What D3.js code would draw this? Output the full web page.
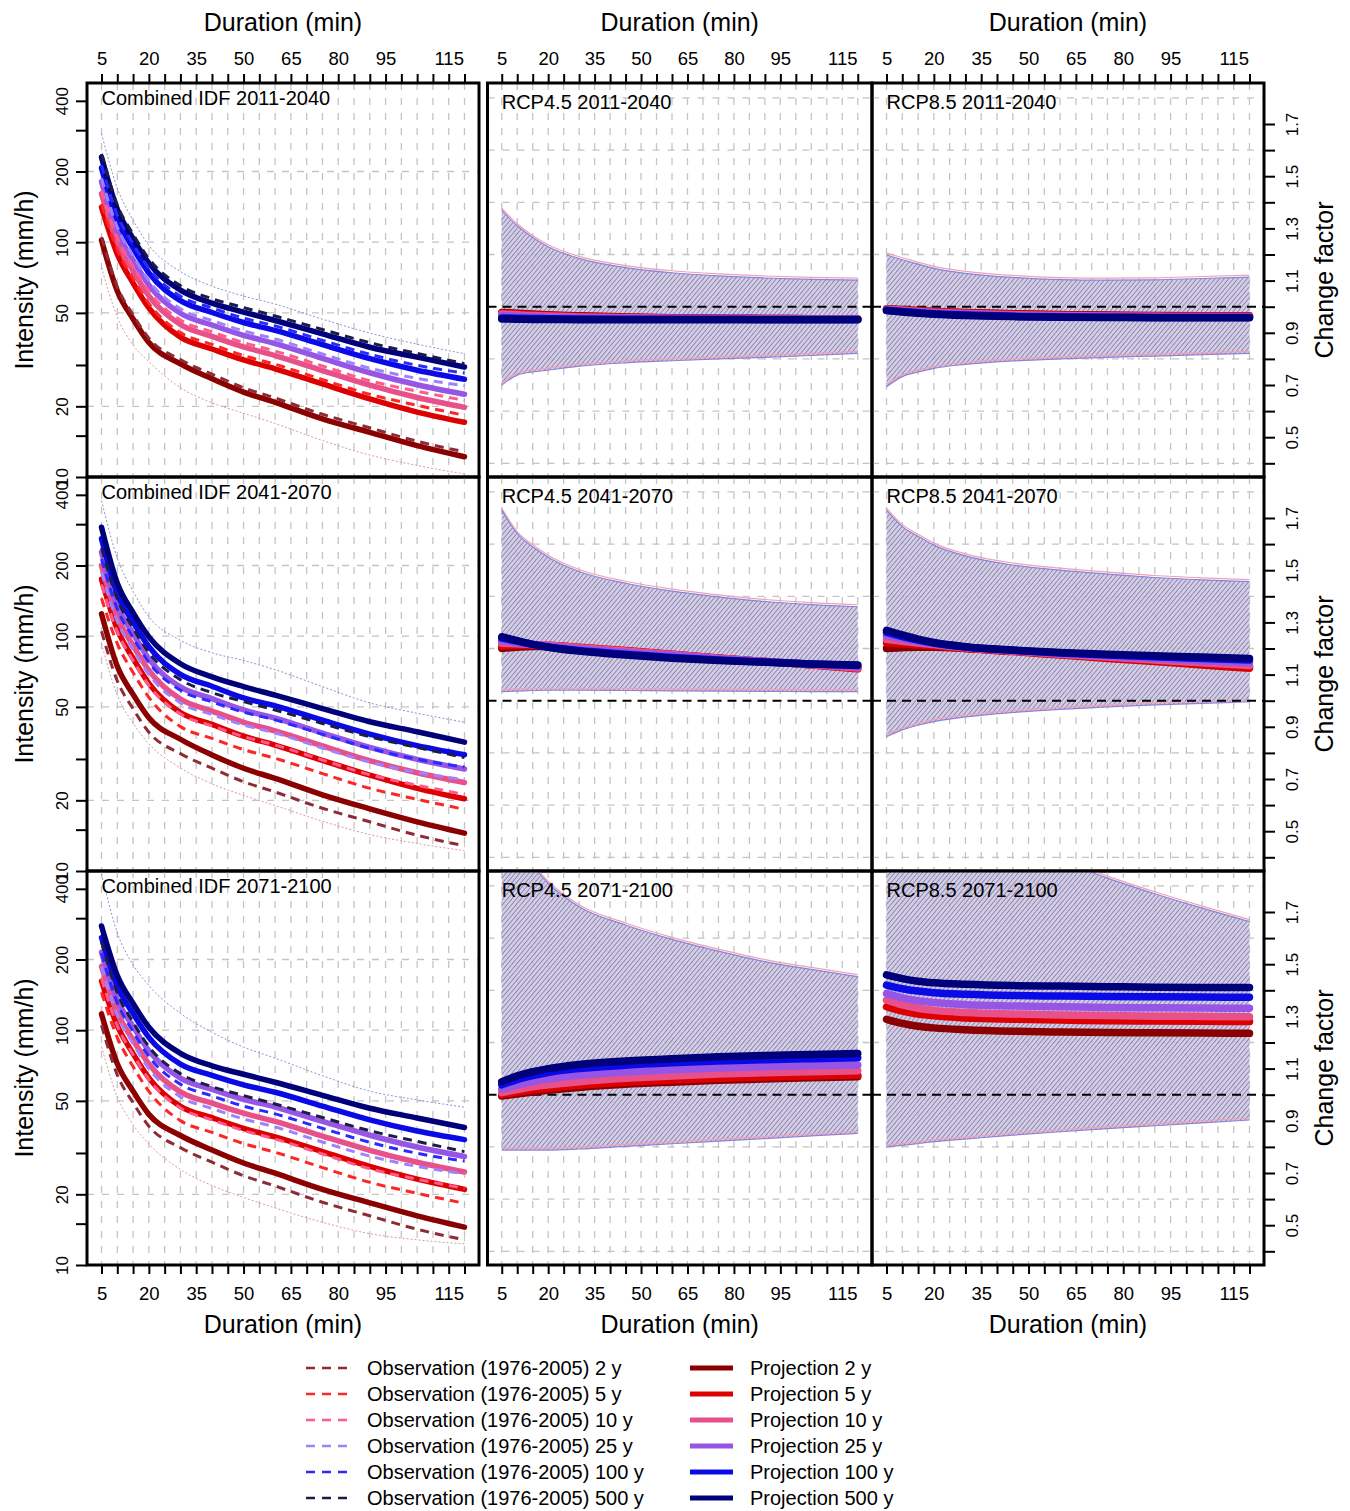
<!DOCTYPE html>
<html>
<head>
<meta charset="utf-8">
<script src="https://cdn.jsdelivr.net/npm/d3@7"></script>
<style>
  body { margin: 0; background: #fff; }
  svg text { font-family: "Liberation Sans", Arial, Helvetica, sans-serif; }
</style>
</head>
<body>
<svg id="chart" width="1350" height="1511"></svg>
<script>
// ---- data ----
const returnPeriods = ["2 y", "5 y", "10 y", "25 y", "100 y", "500 y"];
const periods = ["2011-2040", "2041-2070", "2071-2100"];

const durationTicks = [5, 10, 15, 20, 25, 30, 35, 40, 45, 50, 55, 60, 65, 70, 75, 80, 85, 90, 95, 100, 105, 110, 115, 120];
const durationLabels = [5, 20, 35, 50, 65, 80, 95, 115];
const intensityTickMarks = [10, 15, 20, 30, 50, 100, 200, 300, 400];
const intensityLabels = [10, 20, 50, 100, 200, 400];
const intensityGrid = [20, 50, 100, 200];
const cfTickMarks = [0.4, 0.5, 0.6, 0.7, 0.8, 0.9, 1.0, 1.1, 1.2, 1.3, 1.4, 1.5, 1.6, 1.7];
const cfLabels = [0.5, 0.7, 0.9, 1.1, 1.3, 1.5, 1.7];
const cfGrid = [0.4, 0.6, 0.8, 1.2, 1.4, 1.6, 1.8];

// IDF curves (mm/h)
const idfDurations = [5, 10, 15, 20, 30, 40, 50, 60, 75, 90, 105, 120];
const obsIdf = [
  [105, 64.5, 49.1, 39.0, 31.6, 27.4, 24.0, 21.7, 18.5, 16.2, 14.2, 12.8],
  [145, 93, 70.0, 54.9, 41.2, 36.7, 32.9, 30.2, 26.0, 22.5, 20.2, 18.3],
  [166, 104.5, 78.8, 61.8, 46.6, 41.5, 37.4, 34.4, 29.7, 25.7, 23.2, 21.2],
  [187, 116, 87.6, 68.7, 52.0, 46.4, 41.9, 38.7, 33.4, 29.1, 26.3, 24.5],
  [213, 130.6, 98.6, 77.3, 58.9, 52.5, 47.5, 44.0, 38.2, 33.3, 29.9, 27.7],
  [238, 144, 108.2, 85.1, 65.3, 57.5, 52.7, 48.5, 42.5, 37.3, 33.6, 30.4]
];
const projIdf2011 = [
  [102, 62, 47.1, 37.4, 30.3, 26.2, 23.0, 20.8, 17.7, 15.5, 13.6, 12.2],
  [141, 89, 67.0, 52.5, 39.4, 35.1, 31.5, 28.9, 24.9, 21.5, 18.9, 17.1],
  [161, 100, 75.4, 59.1, 44.6, 39.7, 35.8, 32.9, 28.4, 24.6, 21.8, 19.8],
  [181, 111, 83.8, 65.7, 49.8, 44.4, 40.1, 37.0, 32.0, 27.8, 24.7, 22.5],
  [207, 125, 94.3, 74.0, 56.4, 50.2, 45.5, 42.1, 36.6, 31.9, 28.5, 26.1],
  [230, 138, 103.5, 81.4, 62.5, 55, 50.4, 46.4, 40.7, 35.7, 32.4, 29.4]
];
const projIdf2041 = [
  [124.5, 74.4, 56.5, 44.9, 36.4, 31.2, 27.4, 24.8, 21.1, 18.4, 16.2, 14.5],
  [175, 107, 80.4, 63.0, 47.3, 42.1, 37.5, 34.4, 29.6, 25.6, 22.5, 20.3],
  [200, 121, 91.2, 71.6, 54.0, 48.0, 43.0, 39.5, 34.1, 29.5, 26.2, 23.8],
  [228, 135, 102.5, 80.1, 60.8, 54.2, 48.5, 44.8, 38.7, 33.6, 29.9, 27.2],
  [260, 152, 114.7, 90.2, 68.8, 61.2, 54.6, 50.5, 43.9, 38.3, 34.2, 31.3],
  [291, 168, 125.9, 99.3, 76.3, 67.1, 61.0, 56.1, 49.2, 43.2, 39.2, 35.4]
];
const projIdf2071 = [
  [117.3, 72.0, 55.0, 43.8, 35.6, 30.9, 27.2, 24.6, 21.0, 18.4, 16.2, 14.5],
  [162, 104.5, 79.5, 62.7, 47.4, 42.4, 38.2, 35.1, 30.4, 26.3, 23.2, 21.0],
  [187, 119, 90.8, 71.8, 54.6, 48.9, 44.3, 40.9, 35.4, 30.8, 27.4, 24.9],
  [215, 135, 103.5, 81.8, 62.5, 56.0, 50.8, 47.1, 40.9, 35.7, 31.8, 29.0],
  [248, 154, 117.7, 93.2, 71.7, 64.2, 58.5, 54.4, 47.5, 41.5, 37.2, 34.2],
  [278, 171, 129.9, 102.9, 79.7, 70.5, 64.9, 60.0, 52.8, 46.5, 42.3, 38.5]
];
// faint ensemble bounds in the IDF panels, one row per period
const idfUpper = [
  [290, 170, 124, 97, 75, 65, 59, 54.5, 47, 41, 36.8, 33.5],
  [378, 215, 155, 121, 96, 85, 78.8, 72, 61, 52, 47, 43],
  [463, 260, 190, 155, 118, 98, 84.7, 76, 64, 55, 50.5, 47]
];
const idfLower = [
  [78, 48, 36.5, 31, 24, 20.7, 18.7, 16.9, 14.3, 12.4, 11.2, 10.3],
  [93, 56, 42.6, 34.8, 27.5, 23.5, 21, 19, 16.3, 14.3, 13.1, 12.2],
  [85, 52, 39.6, 32.8, 25.5, 21.8, 19.4, 17.5, 15.2, 13.6, 12.8, 12.3]
];

// change factors
const cfDurations = [5, 10, 15, 20, 30, 45, 60, 75, 90, 105, 120];
const cfRcp45_2011 = [
  [0.978, 0.975, 0.972, 0.969, 0.965, 0.961, 0.958, 0.956, 0.955, 0.954, 0.953],
  [0.976, 0.973, 0.970, 0.967, 0.963, 0.960, 0.957, 0.956, 0.955, 0.954, 0.953],
  [0.972, 0.969, 0.966, 0.964, 0.961, 0.958, 0.956, 0.955, 0.954, 0.953, 0.952],
  [0.965, 0.963, 0.961, 0.959, 0.957, 0.955, 0.954, 0.953, 0.953, 0.952, 0.952],
  [0.957, 0.956, 0.955, 0.954, 0.953, 0.952, 0.952, 0.952, 0.951, 0.951, 0.951],
  [0.953, 0.952, 0.951, 0.951, 0.950, 0.950, 0.950, 0.950, 0.950, 0.950, 0.950]
];
const cfRcp85_2011 = [
  [0.990, 0.988, 0.985, 0.982, 0.978, 0.973, 0.970, 0.968, 0.966, 0.965, 0.965],
  [0.992, 0.989, 0.985, 0.982, 0.977, 0.972, 0.968, 0.966, 0.965, 0.964, 0.964],
  [0.990, 0.986, 0.982, 0.979, 0.974, 0.969, 0.966, 0.964, 0.963, 0.962, 0.962],
  [0.988, 0.984, 0.980, 0.976, 0.971, 0.966, 0.963, 0.962, 0.961, 0.960, 0.960],
  [0.986, 0.982, 0.977, 0.973, 0.968, 0.963, 0.961, 0.960, 0.959, 0.959, 0.959],
  [0.985, 0.980, 0.975, 0.971, 0.966, 0.962, 0.960, 0.959, 0.958, 0.958, 0.958]
];
const cfRcp45_2041 = [
  [1.200, 1.205, 1.208, 1.208, 1.202, 1.190, 1.177, 1.163, 1.150, 1.138, 1.125],
  [1.210, 1.212, 1.213, 1.212, 1.205, 1.192, 1.178, 1.164, 1.150, 1.137, 1.122],
  [1.220, 1.218, 1.215, 1.212, 1.203, 1.190, 1.177, 1.163, 1.150, 1.138, 1.125],
  [1.230, 1.222, 1.215, 1.209, 1.198, 1.185, 1.173, 1.161, 1.150, 1.140, 1.130],
  [1.240, 1.228, 1.216, 1.206, 1.192, 1.178, 1.166, 1.156, 1.148, 1.141, 1.135],
  [1.245, 1.230, 1.216, 1.205, 1.190, 1.175, 1.163, 1.154, 1.147, 1.141, 1.137]
];
const cfRcp85_2041 = [
  [1.200, 1.203, 1.205, 1.205, 1.200, 1.190, 1.178, 1.165, 1.153, 1.142, 1.130],
  [1.222, 1.218, 1.214, 1.210, 1.200, 1.188, 1.175, 1.162, 1.150, 1.137, 1.124],
  [1.235, 1.228, 1.221, 1.215, 1.203, 1.190, 1.178, 1.167, 1.156, 1.145, 1.135],
  [1.250, 1.238, 1.227, 1.218, 1.205, 1.192, 1.181, 1.171, 1.162, 1.153, 1.145],
  [1.262, 1.246, 1.232, 1.221, 1.206, 1.193, 1.183, 1.175, 1.168, 1.162, 1.156],
  [1.270, 1.252, 1.236, 1.223, 1.207, 1.194, 1.185, 1.178, 1.172, 1.167, 1.162]
];
const cfRcp45_2071 = [
  [0.995, 1.003, 1.010, 1.017, 1.028, 1.040, 1.048, 1.055, 1.060, 1.065, 1.069],
  [1.000, 1.010, 1.018, 1.025, 1.036, 1.048, 1.056, 1.063, 1.068, 1.072, 1.075],
  [1.008, 1.020, 1.030, 1.038, 1.050, 1.063, 1.072, 1.079, 1.084, 1.088, 1.092],
  [1.022, 1.037, 1.050, 1.060, 1.074, 1.087, 1.096, 1.102, 1.107, 1.111, 1.114],
  [1.038, 1.058, 1.073, 1.085, 1.100, 1.113, 1.122, 1.129, 1.134, 1.138, 1.142],
  [1.050, 1.072, 1.088, 1.100, 1.116, 1.129, 1.138, 1.145, 1.150, 1.154, 1.158]
];
const cfRcp85_2071 = [
  [1.289, 1.273, 1.262, 1.256, 1.249, 1.243, 1.240, 1.238, 1.237, 1.236, 1.235],
  [1.337, 1.320, 1.309, 1.302, 1.294, 1.289, 1.286, 1.283, 1.282, 1.281, 1.280],
  [1.363, 1.344, 1.331, 1.323, 1.315, 1.309, 1.305, 1.303, 1.301, 1.300, 1.299],
  [1.388, 1.371, 1.360, 1.353, 1.345, 1.340, 1.337, 1.334, 1.333, 1.332, 1.331],
  [1.420, 1.406, 1.397, 1.391, 1.385, 1.380, 1.378, 1.376, 1.375, 1.374, 1.373],
  [1.459, 1.445, 1.435, 1.429, 1.423, 1.418, 1.416, 1.414, 1.412, 1.411, 1.411]
];
// ensemble spread of the change factor, one row per period
const bandHigh45 = [
  [1.37, 1.31, 1.265, 1.23, 1.185, 1.15, 1.13, 1.118, 1.11, 1.105, 1.102],
  [1.73, 1.64, 1.59, 1.55, 1.495, 1.45, 1.42, 1.398, 1.38, 1.368, 1.36],
  [2.1, 1.98, 1.88, 1.81, 1.72, 1.65, 1.595, 1.55, 1.51, 1.48, 1.452]
];
const bandLow45 = [
  [0.70, 0.738, 0.75, 0.757, 0.772, 0.785, 0.793, 0.80, 0.806, 0.813, 0.821],
  [1.035, 1.037, 1.039, 1.04, 1.04, 1.039, 1.038, 1.037, 1.036, 1.035, 1.035],
  [0.788, 0.788, 0.788, 0.788, 0.792, 0.802, 0.812, 0.822, 0.832, 0.842, 0.852]
];
const bandHigh85 = [
  [1.198, 1.18, 1.163, 1.147, 1.128, 1.112, 1.104, 1.102, 1.103, 1.108, 1.113],
  [1.73, 1.667, 1.63, 1.596, 1.555, 1.52, 1.5, 1.485, 1.472, 1.463, 1.456],
  [2.4, 2.3, 2.22, 2.15, 2.05, 1.97, 1.9, 1.83, 1.77, 1.715, 1.663]
];
const bandLow85 = [
  [0.693, 0.732, 0.75, 0.764, 0.779, 0.792, 0.8, 0.806, 0.811, 0.816, 0.821],
  [0.862, 0.888, 0.906, 0.92, 0.938, 0.955, 0.967, 0.976, 0.984, 0.99, 0.996],
  [0.80, 0.806, 0.813, 0.82, 0.83, 0.845, 0.858, 0.87, 0.881, 0.892, 0.903]
];

const projColors = ["#8b0000", "#dc0000", "#e8508a", "#9755e6", "#0a0ae6", "#00007a"];
const obsColors = ["#8e2b35", "#ff2525", "#ff5a8c", "#9f80ff", "#2a2aff", "#1c1c48"];

// ---- layout ----
const svg = d3.select("#chart");
const defs = svg.append("defs");
const cols = [{x0: 87, x1: 479}, {x0: 487.5, x1: 872}, {x0: 872, x1: 1264}];
const rowH = 394;
const rowTop = r => 83 + rowH * r;

const projIdf = [projIdf2011, projIdf2041, projIdf2071];
const cfPanels = [
  {name: "RCP4.5", lines: [cfRcp45_2011, cfRcp45_2041, cfRcp45_2071], high: bandHigh45, low: bandLow45},
  {name: "RCP8.5", lines: [cfRcp85_2011, cfRcp85_2041, cfRcp85_2071], high: bandHigh85, low: bandLow85}
];

function xScaleFor(c) {
  return d3.scaleLinear().domain([0.4, 124.6]).range([cols[c].x0, cols[c].x1]);
}
function yLogFor(r) {
  const t = rowTop(r);
  return d3.scaleLog().domain([10, Math.pow(10, 1 + rowH / 234.8)]).range([t + rowH, t]);
}
function yCfFor(r) {
  const t = rowTop(r);
  return d3.scaleLinear().domain([1 - (rowH - 223.7) / 261, 1 + 223.7 / 261]).range([t + rowH, t]);
}

// hatch used for the ensemble spread
const hatch = defs.append("pattern")
  .attr("id", "hatch")
  .attr("patternUnits", "userSpaceOnUse")
  .attr("width", 3.5).attr("height", 3.5)
  .attr("patternTransform", "rotate(40)");
hatch.append("rect").attr("width", 3.5).attr("height", 3.5).attr("fill", "#cec6e4");
hatch.append("line").attr("x1", 0).attr("y1", 0).attr("x2", 0).attr("y2", 3.5)
  .attr("stroke", "#524c78").attr("stroke-width", 1.2);

const font = '"Liberation Sans", Arial, Helvetica, sans-serif';

for (let r = 0; r < 3; r++) {
  for (let c = 0; c < 3; c++) {
    const x = xScaleFor(c);
    const top = rowTop(r);
    const y = c === 0 ? yLogFor(r) : yCfFor(r);
    const clipId = "clip" + r + c;
    defs.append("clipPath").attr("id", clipId).append("rect")
      .attr("x", cols[c].x0).attr("y", top)
      .attr("width", cols[c].x1 - cols[c].x0).attr("height", rowH);

    const inner = svg.append("g").attr("clip-path", `url(#${clipId})`);

    // grid
    inner.selectAll(".vgrid").data(durationTicks).enter().append("line")
      .attr("x1", d => x(d)).attr("x2", d => x(d))
      .attr("y1", top).attr("y2", top + rowH)
      .attr("stroke", "#c4c4c4").attr("stroke-width", 1.3)
      .attr("stroke-dasharray", "7,8");
    inner.selectAll(".hgrid").data(c === 0 ? intensityGrid : cfGrid).enter().append("line")
      .attr("x1", cols[c].x0).attr("x2", cols[c].x1)
      .attr("y1", d => y(d)).attr("y2", d => y(d))
      .attr("stroke", "#c4c4c4").attr("stroke-width", 1.3)
      .attr("stroke-dasharray", "7,8");

    if (c === 0) {
      const line = d3.line()
        .x((d, i) => x(idfDurations[i]))
        .y(d => y(d))
        .curve(d3.curveMonotoneX);

      [idfUpper[r], idfLower[r]].forEach((s, k) => {
        inner.append("path").datum(s)
          .attr("d", line)
          .attr("fill", "none")
          .attr("stroke", k === 0 ? "#8c92d4" : "#d99aa4")
          .attr("stroke-width", 1)
          .attr("stroke-dasharray", "2,2");
      });

      projIdf[r].forEach((s, k) => {
        inner.append("path").datum(s)
          .attr("d", line)
          .attr("fill", "none")
          .attr("stroke", projColors[k])
          .attr("stroke-width", 5.5)
          .attr("stroke-linecap", "round")
          .attr("stroke-linejoin", "round");
      });
      obsIdf.forEach((s, k) => {
        inner.append("path").datum(s)
          .attr("d", line)
          .attr("fill", "none")
          .attr("stroke", obsColors[k])
          .attr("stroke-width", 3)
          .attr("stroke-dasharray", "9,6");
      });

      svg.append("text")
        .attr("x", x(5)).attr("y", top + 22)
        .attr("font-size", 20)
        .text("Combined IDF " + periods[r]);
    } else {
      const p = cfPanels[c - 1];
      const area = d3.area()
        .x((d, i) => x(cfDurations[i]))
        .y0((d, i) => y(p.low[r][i]))
        .y1(d => y(d))
        .curve(d3.curveMonotoneX);
      inner.append("path").datum(p.high[r])
        .attr("d", area)
        .attr("fill", "url(#hatch)")
        .attr("opacity", 0.88);

      const line = d3.line()
        .x((d, i) => x(cfDurations[i]))
        .y(d => y(d))
        .curve(d3.curveMonotoneX);
      [p.high[r], p.low[r]].forEach(s => {
        inner.append("path").datum(s)
          .attr("d", line).attr("fill", "none")
          .attr("stroke", "#f0a0b8").attr("stroke-width", 1.2)
          .attr("transform", "translate(0,-2)");
        inner.append("path").datum(s)
          .attr("d", line).attr("fill", "none")
          .attr("stroke", "#8a84d8").attr("stroke-width", 1.2);
      });

      inner.append("line")
        .attr("x1", cols[c].x0).attr("x2", cols[c].x1)
        .attr("y1", y(1)).attr("y2", y(1))
        .attr("stroke", "#000").attr("stroke-width", 2)
        .attr("stroke-dasharray", "9,6");

      p.lines[r].forEach((s, k) => {
        inner.append("path").datum(s)
          .attr("d", line)
          .attr("fill", "none")
          .attr("stroke", projColors[k])
          .attr("stroke-width", 7.5)
          .attr("stroke-linecap", "round")
          .attr("stroke-linejoin", "round");
      });

      svg.append("text")
        .attr("x", x(5)).attr("y", top + 26)
        .attr("font-size", 20)
        .text(p.name + " " + periods[r]);
    }

    svg.append("rect")
      .attr("x", cols[c].x0).attr("y", top)
      .attr("width", cols[c].x1 - cols[c].x0).attr("height", rowH)
      .attr("fill", "none").attr("stroke", "#000").attr("stroke-width", 3);
  }
}

// ---- axes ----
function styleAxis(g, size) {
  g.attr("font-family", font).attr("font-size", size);
  g.select(".domain").remove();
  g.selectAll(".tick line").attr("stroke", "#000").attr("stroke-width", 2);
  g.selectAll(".tick text").attr("fill", "#000");
}
const fmtDuration = d => durationLabels.includes(d) ? d : "";

for (let c = 0; c < 3; c++) {
  const x = xScaleFor(c);
  svg.append("g")
    .attr("transform", `translate(0,${rowTop(0)})`)
    .call(d3.axisTop(x).tickValues(durationTicks).tickSize(9).tickPadding(9).tickFormat(fmtDuration))
    .call(g => styleAxis(g, 18.5));
  svg.append("g")
    .attr("transform", `translate(0,${rowTop(2) + rowH})`)
    .call(d3.axisBottom(x).tickValues(durationTicks).tickSize(9).tickPadding(13).tickFormat(fmtDuration))
    .call(g => styleAxis(g, 18.5));

  const mid = x(62.5);
  svg.append("text").attr("x", mid).attr("y", 31)
    .attr("text-anchor", "middle").attr("font-size", 25).text("Duration (min)");
  svg.append("text").attr("x", mid).attr("y", 1333)
    .attr("text-anchor", "middle").attr("font-size", 25).text("Duration (min)");
}

for (let r = 0; r < 3; r++) {
  const yl = yLogFor(r);
  svg.append("g")
    .attr("transform", `translate(${cols[0].x0},0)`)
    .call(d3.axisLeft(yl).tickValues(intensityTickMarks).tickSize(11)
      .tickFormat(d => intensityLabels.includes(d) ? d : ""))
    .call(g => styleAxis(g, 17))
    .call(g => g.selectAll(".tick text")
      .attr("x", 0).attr("y", -19).attr("dy", 0)
      .attr("text-anchor", "middle")
      .attr("transform", "rotate(-90)"));

  const yc = yCfFor(r);
  svg.append("g")
    .attr("transform", `translate(${cols[2].x1},0)`)
    .call(d3.axisRight(yc).tickValues(cfTickMarks).tickSize(11)
      .tickFormat(d => cfLabels.includes(d) ? d.toFixed(1) : ""))
    .call(g => styleAxis(g, 17))
    .call(g => g.selectAll(".tick text")
      .attr("x", 0).attr("y", 34).attr("dy", 0)
      .attr("text-anchor", "middle")
      .attr("transform", "rotate(-90)"));

  const cy = rowTop(r) + rowH / 2;
  svg.append("text")
    .attr("transform", `translate(33,${cy}) rotate(-90)`)
    .attr("text-anchor", "middle").attr("font-size", 25)
    .text("Intensity (mm/h)");
  svg.append("text")
    .attr("transform", `translate(1333,${cy}) rotate(-90)`)
    .attr("text-anchor", "middle").attr("font-size", 25)
    .text("Change factor");
}

// ---- legend ----
const legend = svg.append("g").attr("font-size", 20);
returnPeriods.forEach((rp, k) => {
  const ly = 1368 + 26 * k;
  legend.append("line")
    .attr("x1", 306).attr("x2", 348).attr("y1", ly).attr("y2", ly)
    .attr("stroke", obsColors[k]).attr("stroke-width", 2.5)
    .attr("stroke-dasharray", "9,7");
  legend.append("text")
    .attr("x", 367).attr("y", ly).attr("dy", "0.35em")
    .text("Observation (1976-2005) " + rp);
  legend.append("line")
    .attr("x1", 690).attr("x2", 733).attr("y1", ly).attr("y2", ly)
    .attr("stroke", projColors[k]).attr("stroke-width", 5);
  legend.append("text")
    .attr("x", 750).attr("y", ly).attr("dy", "0.35em")
    .text("Projection " + rp);
});
</script>
</body>
</html>
